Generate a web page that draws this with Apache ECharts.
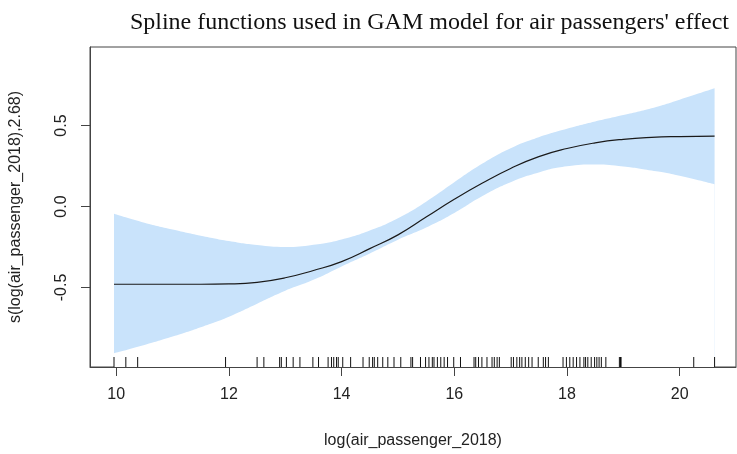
<!DOCTYPE html>
<html><head><meta charset="utf-8">
<script src="https://cdn.jsdelivr.net/npm/echarts@6/dist/echarts.min.js"></script>
<style>html,body{margin:0;padding:0;background:#fff}#c{width:737px;height:454px}</style>
</head><body><div id="c"></div>
<script>
// ---- data ----
const xGrid    = [9.96, 10.5, 11.0, 11.5, 12.0, 12.5, 13.0, 13.5, 14.0, 14.5, 15.0, 15.5, 16.0, 16.5, 17.0, 17.5, 18.0, 18.5, 19.0, 19.5, 20.0, 20.62];
const fitVals  = [-0.48, -0.48, -0.48, -0.48, -0.478, -0.468, -0.44, -0.395, -0.34, -0.26, -0.175, -0.065, 0.045, 0.145, 0.235, 0.308, 0.358, 0.393, 0.415, 0.427, 0.432, 0.435];
const upperVals= [-0.045, -0.10, -0.142, -0.18, -0.213, -0.238, -0.250, -0.236, -0.203, -0.148, -0.072, 0.03, 0.15, 0.265, 0.36, 0.428, 0.48, 0.525, 0.565, 0.607, 0.66, 0.73];
const lowerVals= [-0.906, -0.855, -0.803, -0.745, -0.68, -0.60, -0.52, -0.453, -0.37, -0.29, -0.205, -0.13, -0.04, 0.065, 0.15, 0.21, 0.248, 0.259, 0.247, 0.222, 0.19, 0.137];
const rugX = [9.96, 10.17, 10.38, 11.94, 12.50, 12.62, 12.90, 12.93, 13.02, 13.14, 13.26, 13.49, 13.59, 13.76, 13.82, 13.86, 13.91, 13.94, 14.02, 14.16, 14.38, 14.49, 14.55, 14.58, 14.64, 14.73, 14.82, 14.93, 15.05, 15.23, 15.26, 15.40, 15.49, 15.55, 15.61, 15.64, 15.70, 15.76, 15.82, 15.88, 15.99, 16.11, 16.35, 16.38, 16.43, 16.49, 16.58, 16.67, 16.71, 16.76, 16.80, 17.01, 17.05, 17.11, 17.16, 17.20, 17.26, 17.32, 17.38, 17.49, 17.58, 17.62, 17.67, 17.93, 17.99, 18.05, 18.11, 18.17, 18.23, 18.30, 18.33, 18.37, 18.43, 18.49, 18.53, 18.57, 18.61, 18.69, 18.93, 18.95, 18.96, 20.25, 20.62];
const xTicks = [10, 12, 14, 16, 18, 20];
const yTicks = [-0.5, 0, 0.5];
const titleText = "Spline functions used in GAM model for air passengers' effect";
const xName = "log(air_passenger_2018)";
const yName = "s(log(air_passenger_2018),2.68)";

const X_MIN = 9.534, X_MAX = 21.0, Y_MIN = -0.991, Y_MAX = 0.985;

const chart = echarts.init(document.getElementById('c'), null, {renderer: 'canvas'});
const sans = 'Liberation Sans, Arial, sans-serif';
const axisCol = '#444';
const option = {
  animation: false,
  backgroundColor: '#fff',
  title: {
    text: titleText, right: 3, top: 6,
    textStyle: {fontFamily: 'Liberation Serif, Times New Roman, serif', fontWeight: 'normal', fontSize: 24, color: '#111'}
  },
  grid: {left: 87, right: 1, top: 47, bottom: 82, show: true, borderColor: axisCol, borderWidth: 1, backgroundColor: 'transparent'},
  xAxis: {
    type: 'value', min: X_MIN, max: X_MAX, z: 10,
    name: xName, nameLocation: 'middle', nameGap: 66,
    nameTextStyle: {fontFamily: sans, fontSize: 16, color: '#222'},
    axisLine: {show: true, onZero: false, lineStyle: {color: axisCol}},
    axisTick: {show: true, length: 9, customValues: xTicks, lineStyle: {color: axisCol}},
    axisLabel: {customValues: xTicks, margin: 20, fontFamily: sans, fontSize: 16, color: '#222'},
    splitLine: {show: false}
  },
  yAxis: {
    type: 'value', min: Y_MIN, max: Y_MAX, z: 10,
    name: yName, nameLocation: 'middle', nameGap: 66, nameRotate: 90,
    nameTextStyle: {fontFamily: sans, fontSize: 16, color: '#222'},
    axisLine: {show: true, onZero: false, lineStyle: {color: axisCol}},
    axisTick: {show: true, length: 9, customValues: yTicks, lineStyle: {color: axisCol}},
    axisLabel: {customValues: yTicks, rotate: 90, margin: 20, fontFamily: sans, fontSize: 16, color: '#222',
      formatter: v => v.toFixed(1)},
    splitLine: {show: false}
  },
  series: [
    // confidence band: blue fill under the upper bound, then white fill under the lower bound
    {type: 'line', data: xGrid.map((x, i) => [x, upperVals[i]]), symbol: 'none', smooth: true, z: 1,
     lineStyle: {width: 0, opacity: 0}, areaStyle: {color: '#c9e3fb', opacity: 1, origin: 'start'}, silent: true},
    {type: 'line', data: xGrid.map((x, i) => [x, lowerVals[i]]), symbol: 'none', smooth: true, z: 2,
     lineStyle: {width: 0, opacity: 0}, areaStyle: {color: '#ffffff', opacity: 1, origin: 'start'}, silent: true},
    {type: 'line', data: xGrid.map((x, i) => [x, fitVals[i]]), symbol: 'none', smooth: true,
     lineStyle: {color: '#1a1a1a', width: 1.2}, z: 5},
    {type: 'custom', data: rugX.map(x => [x, Y_MIN]), encode: {x: 0, y: 1}, z: 6,
     renderItem: (params, api) => {
       const p = api.coord([api.value(0), api.value(1)]);
       return {type: 'line', shape: {x1: p[0], y1: p[1], x2: p[0], y2: p[1] - 10},
               style: {stroke: '#111', lineWidth: 1}};
     }}
  ]
};
chart.setOption(option);
</script></body></html>
